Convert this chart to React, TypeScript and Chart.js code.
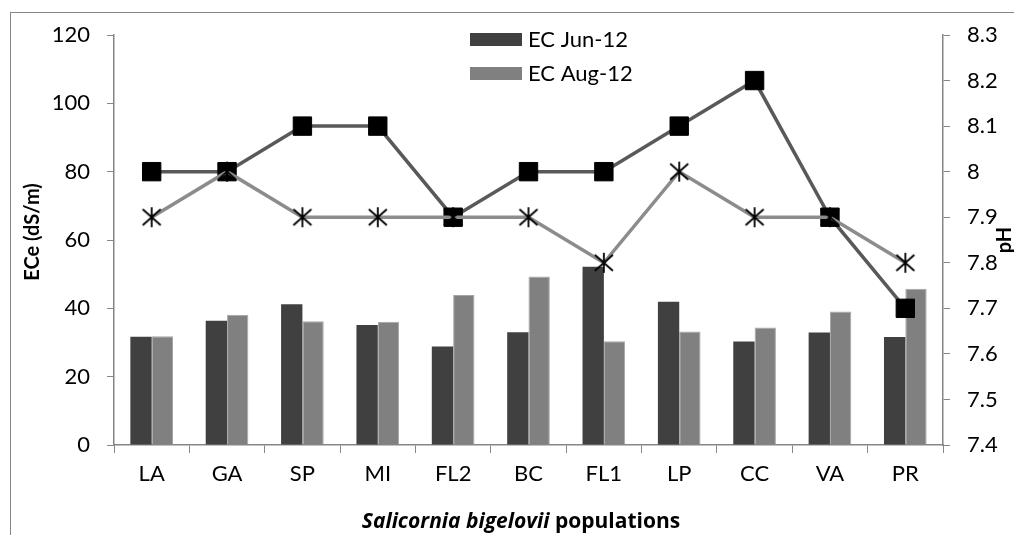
import React, { useEffect, useRef } from "react";
import { Chart, registerables } from "chart.js";

Chart.register(...registerables);

const categories = ["LA", "GA", "SP", "MI", "FL2", "BC", "FL1", "LP", "CC", "VA", "PR"];
const ecJun = [31.7, 36.4, 41.2, 35.1, 28.8, 33.0, 52.2, 41.9, 30.3, 32.9, 31.6];
const ecAug = [31.8, 38.1, 36.2, 36.1, 43.9, 49.3, 30.4, 33.2, 34.4, 39.1, 45.7];
const phJun = [8.0, 8.0, 8.1, 8.1, 7.9, 8.0, 8.0, 8.1, 8.2, 7.9, 7.7];
const phAug = [7.9, 8.0, 7.9, 7.9, 7.9, 7.9, 7.8, 8.0, 7.9, 7.9, 7.8];
const ecTicks = { min: 0, max: 120, step: 20 };
const phTicks = { min: 7.4, max: 8.3, step: 0.1 };

const FONT = "Lato, 'Open Sans', sans-serif";
const TITLE_FONT = "'Open Sans', Lato, sans-serif";
const AXIS = "#868686";

function makeStar(): HTMLCanvasElement {
  const c = document.createElement("canvas");
  c.width = 22;
  c.height = 22;
  const g = c.getContext("2d")!;
  g.strokeStyle = "#000";
  g.lineWidth = 1.8;
  g.beginPath();
  g.moveTo(2, 3);
  g.lineTo(20, 19);
  g.moveTo(20, 3);
  g.lineTo(2, 19);
  g.moveTo(11, 1);
  g.lineTo(11, 21);
  g.stroke();
  return c;
}

const decorPlugin = {
  id: "decor",
  afterDraw(chart: any) {
    const ctx = chart.ctx as CanvasRenderingContext2D;
    ctx.save();
    // outer border
    ctx.strokeStyle = AXIS;
    ctx.lineWidth = 1;
    ctx.strokeRect(10.5, 12.5, 1200, 700);

    // legend
    const items = chart.data.datasets.slice(0, 2);
    items.forEach((ds: any, i: number) => {
      const y = 33 + i * 34;
      ctx.fillStyle = ds.backgroundColor;
      ctx.fillRect(470, y, 52, 13);
      ctx.fillStyle = "#000";
      ctx.font = `22px ${FONT}`;
      ctx.textBaseline = "middle";
      ctx.textAlign = "left";
      ctx.fillText(ds.label, 528, y + 7);
    });

    // y titles
    ctx.fillStyle = "#000";
    ctx.font = `bold 20px ${FONT}`;
    ctx.textAlign = "center";
    ctx.textBaseline = "middle";
    ctx.save();
    ctx.translate(33, 232);
    ctx.rotate(-Math.PI / 2);
    ctx.fillText("ECe (dS/m)", 0, 0);
    ctx.restore();
    ctx.save();
    ctx.translate(1005, 240);
    ctx.rotate(-Math.PI / 2);
    ctx.fillText("pH", 0, 0);
    ctx.restore();

    // x title
    const f1 = `italic bold 21px ${TITLE_FONT}`;
    const f2 = `bold 21px ${TITLE_FONT}`;
    const t1 = "Salicornia bigelovii";
    const t2 = " populations";
    ctx.font = f1;
    const w1 = ctx.measureText(t1).width;
    ctx.font = f2;
    const w2 = ctx.measureText(t2).width;
    const x0 = 521 - (w1 + w2) / 2;
    ctx.textAlign = "left";
    ctx.textBaseline = "alphabetic";
    ctx.font = f1;
    ctx.fillText(t1, x0, 528);
    ctx.font = f2;
    ctx.fillText(t2, x0 + w1, 528);
    ctx.restore();
  },
};

export default function App() {
  const ref = useRef<HTMLCanvasElement | null>(null);
  useEffect(() => {
    document.body.style.margin = "0";
    const star = makeStar();
    const chart = new Chart(ref.current!, {
      type: "bar",
      data: {
        labels: categories,
        datasets: [
          {
            type: "bar",
            label: "EC Jun-12",
            data: ecJun,
            backgroundColor: "#404040",
            yAxisID: "y",
            order: 3,
            categoryPercentage: 0.566,
            barPercentage: 1.0,
          },
          {
            type: "bar",
            label: "EC Aug-12",
            data: ecAug,
            backgroundColor: "#808080",
            borderColor: "#a6a6a6",
            borderWidth: 1,
            yAxisID: "y",
            order: 3,
            categoryPercentage: 0.566,
            barPercentage: 1.0,
          },
          {
            type: "line",
            label: "pH Jun-12",
            data: phJun,
            yAxisID: "y1",
            borderColor: "#595959",
            borderWidth: 3.5,
            pointStyle: "rect",
            pointRadius: 13,
            pointBackgroundColor: "#000",
            pointBorderColor: "#000",
            pointBorderWidth: 1,
            order: 2,
          },
          {
            type: "line",
            label: "pH Aug-12",
            data: phAug,
            yAxisID: "y1",
            borderColor: "#8c8c8c",
            borderWidth: 3.5,
            pointStyle: star as any,
            pointRadius: 10,
            order: 1,
          },
        ] as any,
      },
      options: {
        responsive: false,
        animation: false,
        layout: { padding: { top: 35, left: 0, right: 0, bottom: 0 } },
        plugins: { legend: { display: false }, tooltip: { enabled: false } },
        scales: {
          x: {
            grid: {
              display: true,
              drawOnChartArea: false,
              drawTicks: true,
              tickLength: 8,
              color: AXIS,
              offset: true,
            },
            border: { color: AXIS, width: 1.5 },
            ticks: { color: "#000", font: { family: FONT, size: 22 }, padding: 8 },
            afterFit: (s: any) => {
              s.height = 90;
            },
          },
          y: {
            position: "left",
            min: ecTicks.min,
            max: ecTicks.max,
            ticks: {
              stepSize: ecTicks.step,
              color: "#000",
              font: { family: FONT, size: 22 },
              padding: 17,
            },
            grid: { drawOnChartArea: false, tickLength: 7, color: AXIS },
            border: { color: AXIS, width: 1.5 },
            afterFit: (s: any) => {
              s.width = 114;
            },
          },
          y1: {
            position: "right",
            min: phTicks.min,
            max: phTicks.max,
            ticks: {
              stepSize: phTicks.step,
              color: "#000",
              font: { family: FONT, size: 22 },
              padding: 17,
              callback: (v: any) => String(Number(Number(v).toFixed(1))),
            },
            grid: { drawOnChartArea: false, tickLength: 7, color: AXIS },
            border: { color: AXIS, width: 1.5 },
            afterFit: (s: any) => {
              s.width = 71;
            },
          },
        },
      } as any,
      plugins: [decorPlugin],
    });
    return () => chart.destroy();
  }, []);
  return (
    <div style={{ width: 1014, height: 535 }}>
      <canvas ref={ref} width={1014} height={535} />
    </div>
  );
}
